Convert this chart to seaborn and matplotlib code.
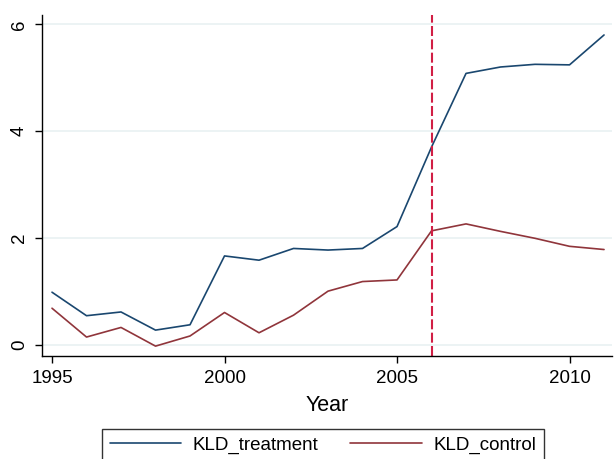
import pandas as pd
import numpy as np
import matplotlib
matplotlib.use("Agg")
import matplotlib.pyplot as plt
import seaborn as sns

# values
years = list(range(1995, 2012))
kld_treatment = [0.98, 0.54, 0.61, 0.27, 0.37, 1.66, 1.58, 1.80, 1.77, 1.80,
                 2.21, 3.70, 5.08, 5.20, 5.25, 5.24, 5.80]
kld_control = [0.68, 0.14, 0.32, -0.03, 0.16, 0.60, 0.22, 0.55, 1.00, 1.18,
               1.21, 2.13, 2.26, 2.12, 1.99, 1.84, 1.78]
series_names = ["KLD_treatment", "KLD_control"]
cutoff_year = 2006
x_ticks = [1995, 2000, 2005, 2010]
y_ticks = [0, 2, 4, 6]

NAVY = "#1a476f"
MAROON = "#90353b"
CUT_RED = "#d11f45"
GRID = "#eaf2f3"

df = pd.DataFrame({
    "Year": years * 2,
    "value": kld_treatment + kld_control,
    "series": [series_names[0]] * len(years) + [series_names[1]] * len(years),
})

sns.set_style("white")
plt.rcParams["font.family"] = ["Liberation Sans", "DejaVu Sans"]
plt.rcParams.update({"text.color": "black", "axes.labelcolor": "black",
                     "xtick.color": "black", "ytick.color": "black"})

fig = plt.figure(figsize=(6.14, 4.59), dpi=100)
ax = fig.add_axes([0.0684, 0.2244, 0.9283, 0.7436])

for y in y_ticks:
    ax.axhline(y, color=GRID, linewidth=1.3, zorder=0)

sns.lineplot(data=df, x="Year", y="value", hue="series",
             palette=[NAVY, MAROON], linewidth=1.2, ax=ax, legend=False)

ax.axvline(cutoff_year, color=CUT_RED, linewidth=1.5, dashes=(4.8, 1.6))

ax.set_xlim(1994.71, 2011.23)
ax.set_ylim(-0.215, 6.18)
ax.set_xticks(x_ticks)
ax.set_yticks(y_ticks)
ax.set_yticklabels([str(t) for t in y_ticks], rotation=90, va="center")
ax.tick_params(axis="both", labelsize=13.5, length=5, width=1, color="black",
               labelcolor="black", direction="out", pad=5, bottom=True, left=True)
ax.set_xlabel("Year", fontsize=15.5, labelpad=6, color="black")
ax.set_ylabel("")

for side in ["top", "right"]:
    ax.spines[side].set_visible(False)
for side in ["left", "bottom"]:
    ax.spines[side].set_color("black")
    ax.spines[side].set_linewidth(1)

handles = [plt.Line2D([], [], color=NAVY, linewidth=1.2),
           plt.Line2D([], [], color=MAROON, linewidth=1.2)]
leg = fig.legend(handles, series_names, loc="upper center",
                 bbox_to_anchor=(0.526, 0.0654), borderaxespad=0, ncol=2,
                 fontsize=13.5, frameon=True, fancybox=False, handlelength=3.8,
                 handletextpad=0.63, columnspacing=1.7, borderpad=0.4)
leg.get_frame().set_edgecolor("black")
leg.get_frame().set_linewidth(1)

fig.savefig("out.png", dpi=100)
